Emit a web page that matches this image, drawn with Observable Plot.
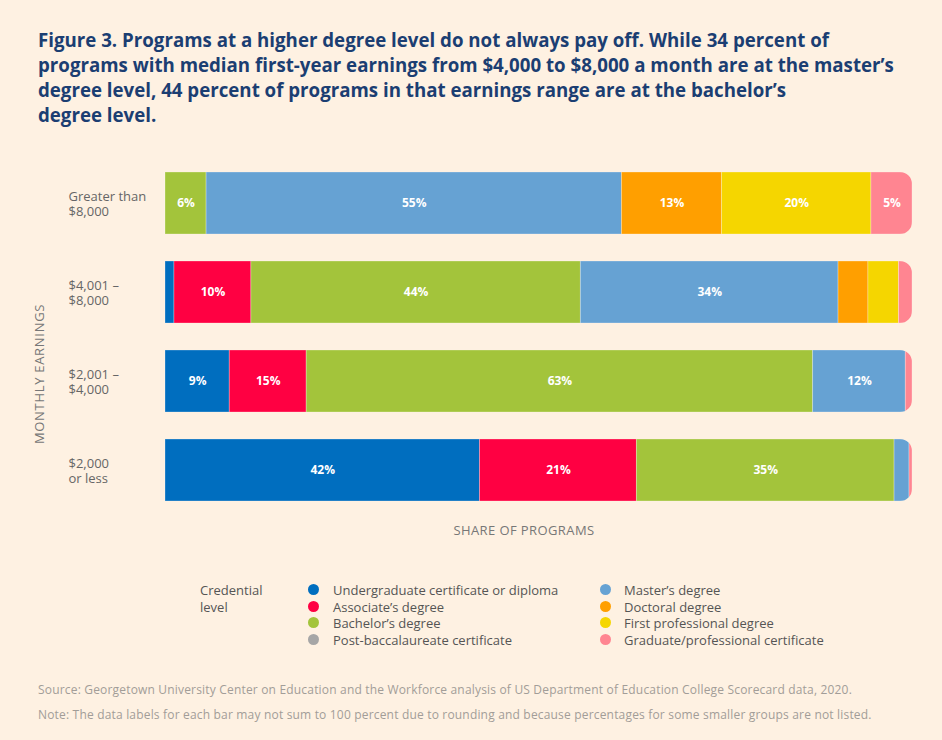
<!DOCTYPE html>
<html>
<head>
<meta charset="utf-8">
<script src="https://cdn.jsdelivr.net/npm/d3@7"></script>
<script src="https://cdn.jsdelivr.net/npm/@observablehq/plot@0.6"></script>
<style>
  html, body { margin: 0; padding: 0; background: #fef1e2; }
  #page { position: relative; width: 942px; height: 740px; background: #fef1e2; overflow: hidden; }
  #title { position: absolute; left: 38px; top: 27px; width: 900px; font-family: "Open Sans", sans-serif; font-weight: 700; font-size: 18.7px; line-height: 25px; color: #1b3e72; letter-spacing: 0; white-space: nowrap; }
  #chart { position: absolute; left: 0; top: 140px; }
  #ytitle { position: absolute; left: 39px; top: 374px; width: 0; height: 0; }
  #ytitle span { position: absolute; left: 0; top: 0; transform: translate(-50%, -50%) rotate(-90deg); white-space: nowrap; font-family: "Open Sans", sans-serif; font-size: 13px; letter-spacing: 0.7px; color: #777; line-height: 1; }
  #legend { position: absolute; left: 0; top: 582px; width: 942px; height: 70px; font-family: "Open Sans", sans-serif; font-size: 13px; color: #555; }
  .lg-title { position: absolute; left: 200px; top: 0; line-height: 16.5px; }
  .lg-item { position: absolute; line-height: 16.5px; white-space: nowrap; }
  .lg-dot { position: absolute; width: 11px; height: 11px; border-radius: 50%; }
  #footer { position: absolute; left: 38px; top: 678px; font-family: "Open Sans", sans-serif; font-size: 12px; letter-spacing: 0.18px; color: #a29d98; line-height: 24.5px; white-space: nowrap; }
</style>
</head>
<body>
<div id="page">
  <div id="title">Figure 3. Programs at a higher degree level do not always pay off. While 34 percent of<br>programs with median first-year earnings from $4,000 to $8,000 a month are at the master’s<br>degree level, 44 percent of programs in that earnings range are at the bachelor’s<br>degree level.</div>
  <div id="chart"></div>
  <div id="ytitle"><span></span></div>
  <div id="legend"></div>
  <div id="footer">Source: Georgetown University Center on Education and the Workforce analysis of US Department of Education College Scorecard data, 2020.<br>Note: The data labels for each bar may not sum to 100 percent due to rounding and because percentages for some smaller groups are not listed.</div>
</div>
<script>
// ---- Data ----
const categories = ["Greater than $8,000", "$4,001 – $8,000", "$2,001 – $4,000", "$2,000 or less"];
const categoryLines = ["Greater than\n$8,000", "$4,001 –\n$8,000", "$2,001 –\n$4,000", "$2,000\nor less"];
const credentials = [
  "Undergraduate certificate or diploma",
  "Associate’s degree",
  "Bachelor’s degree",
  "Post-baccalaureate certificate",
  "Master’s degree",
  "Doctoral degree",
  "First professional degree",
  "Graduate/professional certificate"
];
const colors = ["#006ebf", "#ff0042", "#a3c43b", "#a6a6a6", "#66a2d3", "#ff9f00", "#f5d600", "#ff8591"];

// share of programs (%) per credential, in credential order
const sharesOver8000   = [0, 0, 5.5, 0, 55.6, 13.4, 20.0, 5.5];
const shares4001to8000 = [1.2, 10.3, 44.1, 0, 34.5, 4.0, 4.1, 1.8];
const shares2001to4000 = [8.6, 10.3, 67.8, 0, 12.4, 0, 0, 0.9];
const shares2000less   = [42.1, 21.0, 34.5, 0, 2.0, 0, 0, 0.4];

// printed data labels
const labelsOver8000   = ["", "", "6%", "", "55%", "13%", "20%", "5%"];
const labels4001to8000 = ["", "10%", "44%", "", "34%", "", "", ""];
const labels2001to4000 = ["9%", "15%", "63%", "", "12%", "", "", ""];
const labels2000less   = ["42%", "21%", "35%", "", "", "", "", ""];

const legendTitle = "Credential\nlevel";
const xTitle = "SHARE OF PROGRAMS";
const yTitle = "MONTHLY EARNINGS";

// ---- Build table ----
const rowShares = [sharesOver8000, shares4001to8000, shares2001to4000, shares2000less];
const rowLabels = [labelsOver8000, labels4001to8000, labels2001to4000, labels2000less];
const data = [];
categories.forEach((row, r) => {
  credentials.forEach((cred, c) => {
    data.push({row, cred, value: rowShares[r][c], label: rowLabels[r][c]});
  });
});

const plot = Plot.plot({
  width: 942,
  height: 414,
  marginTop: 31,
  marginBottom: 51,
  marginLeft: 165,
  marginRight: 30,
  style: {background: "transparent", fontFamily: "'Open Sans', sans-serif", overflow: "visible"},
  x: {domain: [0, 100], axis: null},
  y: {domain: categories, paddingInner: 0.303, paddingOuter: 0, axis: null},
  color: {domain: credentials, range: colors},
  marks: [
    Plot.barX(data, Plot.stackX({x: "value", y: "row", fill: "cred", order: credentials, stroke: "#ffffff", strokeOpacity: 0.35, strokeWidth: 0.8})),
    Plot.text(data, Plot.stackX({x: "value", y: "row", z: "cred", order: credentials, text: "label", fill: "white", fontWeight: "bold", fontSize: 12})),
    Plot.text(categories, {y: d => d, text: (d, i) => categoryLines[i], frameAnchor: "left", textAnchor: "start", dx: -97, lineHeight: 1.15, fontSize: 13, fill: "#666"}),
    Plot.text([xTitle], {frameAnchor: "bottom", dy: 31, dx: -15, fontSize: 13, fill: "#777"})
  ]
});

// Rounded right ends via clip path computed from the plot's own scales
const xs = plot.scale("x"), ys = plot.scale("y");
const ns = "http://www.w3.org/2000/svg";
const defs = document.createElementNS(ns, "defs");
const clip = document.createElementNS(ns, "clipPath");
clip.setAttribute("id", "barclip");
categories.forEach(cat => {
  const r = document.createElementNS(ns, "rect");
  const x0 = xs.apply(0), x1 = xs.apply(100);
  r.setAttribute("x", x0 - 20);
  r.setAttribute("y", ys.apply(cat));
  r.setAttribute("width", x1 - x0 + 20);
  r.setAttribute("height", ys.bandwidth);
  r.setAttribute("rx", 12);
  clip.appendChild(r);
});
defs.appendChild(clip);
plot.insertBefore(defs, plot.firstChild);
const barG = plot.querySelector('g[aria-label="bar"]');
if (barG) barG.setAttribute("clip-path", "url(#barclip)");
// letter spacing for the x title
const textGs = plot.querySelectorAll('g[aria-label="text"]');
if (textGs.length) textGs[textGs.length - 1].setAttribute("letter-spacing", "0.4");

document.getElementById("chart").appendChild(plot);
document.querySelector("#ytitle span").textContent = yTitle;

// ---- Legend ----
const legend = document.getElementById("legend");
const lt = document.createElement("div");
lt.className = "lg-title";
lt.innerHTML = legendTitle.replace("\n", "<br>");
legend.appendChild(lt);
credentials.forEach((cred, i) => {
  const col = Math.floor(i / 4), row = i % 4;
  const cx = col === 0 ? 313 : 605;
  const tx = col === 0 ? 333 : 624;
  const top = row * 16.5;
  const dot = document.createElement("div");
  dot.className = "lg-dot";
  dot.style.left = (cx - 5.5) + "px";
  dot.style.top = (top + 2) + "px";
  dot.style.background = colors[i];
  legend.appendChild(dot);
  const t = document.createElement("div");
  t.className = "lg-item";
  t.style.left = tx + "px";
  t.style.top = top + "px";
  t.textContent = cred;
  legend.appendChild(t);
});
</script>
</body>
</html>
